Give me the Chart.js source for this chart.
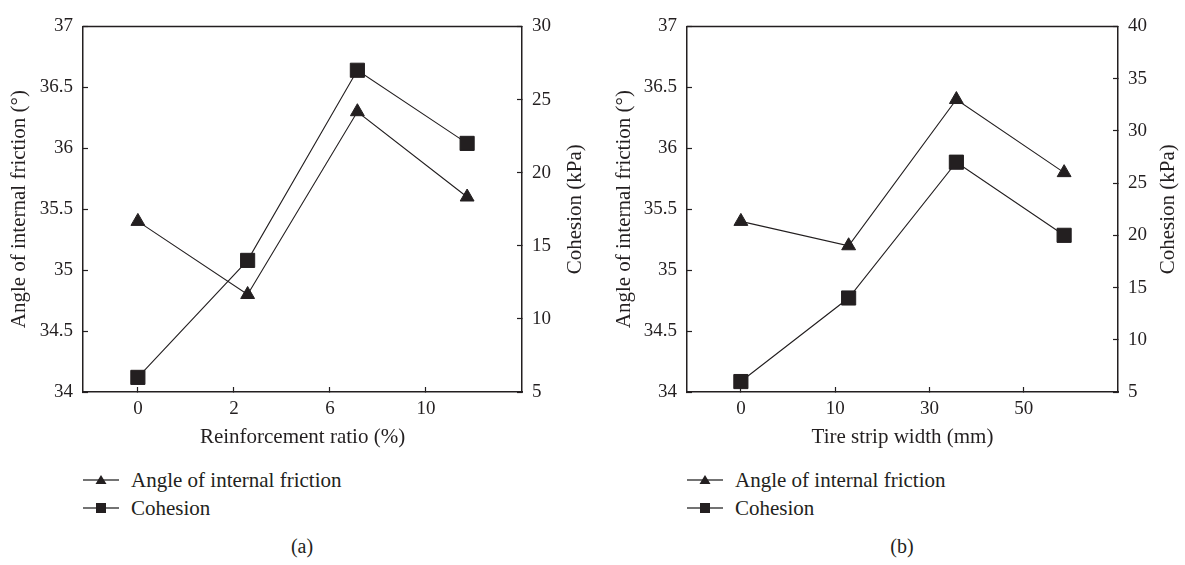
<!DOCTYPE html>
<html lang="en">
<head>
<meta charset="utf-8">
<title>Angle of internal friction and cohesion</title>
<script src="https://cdn.jsdelivr.net/npm/chart.js@4.4.1/dist/chart.umd.min.js"></script>
<style>
  body {
    margin: 0;
    width: 1185px;
    height: 565px;
    position: relative;
    overflow: hidden;
    background: #fff;
    color: #231f20;
    font-family: "Liberation Serif", "DejaVu Serif", serif;
  }
  canvas { position: absolute; top: 0; }
  .legend { position: absolute; top: 466px; font-size: 21px; }
  .legend div { height: 28px; display: flex; align-items: center; }
  .legend svg { margin-right: 12px; }
  .caption { position: absolute; top: 535px; width: 100px; text-align: center; font-size: 20px; }
</style>
</head>
<body>

  <!-- Panel (a) -->
  <canvas id="chartA" width="600" height="460" style="left:0"></canvas>
  <div class="legend" style="left:83px">
    <div><svg width="36" height="14"><line x1="0" y1="7" x2="36" y2="7" stroke="#444" stroke-width="1.5"/><polygon points="18,2 23.5,11 12.5,11" fill="#231f20"/></svg>Angle of internal friction</div>
    <div><svg width="36" height="14"><line x1="0" y1="7" x2="36" y2="7" stroke="#444" stroke-width="1.5"/><rect x="13" y="2" width="10" height="10" fill="#231f20"/></svg>Cohesion</div>
  </div>
  <div class="caption" style="left:252px">(a)</div>

  <!-- Panel (b) -->
  <canvas id="chartB" width="585" height="460" style="left:600px"></canvas>
  <div class="legend" style="left:687px">
    <div><svg width="36" height="14"><line x1="0" y1="7" x2="36" y2="7" stroke="#444" stroke-width="1.5"/><polygon points="18,2 23.5,11 12.5,11" fill="#231f20"/></svg>Angle of internal friction</div>
    <div><svg width="36" height="14"><line x1="0" y1="7" x2="36" y2="7" stroke="#444" stroke-width="1.5"/><rect x="13" y="2" width="10" height="10" fill="#231f20"/></svg>Cohesion</div>
  </div>
  <div class="caption" style="left:852px">(b)</div>

<script>
  // values
  const ratioLabels = ["0", "2", "6", "10"];
  const widthLabels = ["0", "10", "30", "50"];
  const labelSpots = [0.5, 1.375, 2.25, 3.125]; // printed x labels do not line up with the points
  const frictionA = [35.4, 34.8, 36.3, 35.6];
  const cohesionA = [6, 14, 27, 22];
  const frictionB = [35.4, 35.2, 36.4, 35.8];
  const cohesionB = [6, 14, 27, 20];
  const frictionTicks = [34, 34.5, 35, 35.5, 36, 36.5, 37];
  const cohesionTicksA = [5, 10, 15, 20, 25, 30];
  const cohesionTicksB = [5, 10, 15, 20, 25, 30, 35, 40];

  const ink = "#231f20";
  const serif = "'Liberation Serif', 'Times New Roman', serif";
  Chart.defaults.font.family = serif;
  Chart.defaults.color = ink;
  const tickFont = { family: serif, size: 19 };
  const titleFont = { family: serif, size: 21 };

  const frame = {
    id: "frame",
    afterDraw(chart, args, opts) {
      const { ctx, chartArea: a } = chart;
      ctx.save();
      ctx.strokeStyle = ink;
      ctx.lineWidth = 1.5;
      ctx.beginPath();
      ctx.moveTo(a.left, a.top);
      ctx.lineTo(a.right, a.top);
      ctx.stroke();
      // right-hand title reads bottom to top
      ctx.translate(chart.width - opts.inset, (a.top + a.bottom) / 2);
      ctx.rotate(-Math.PI / 2);
      ctx.fillStyle = ink;
      ctx.font = titleFont.size + "px " + serif;
      ctx.textAlign = "center";
      ctx.textBaseline = "middle";
      ctx.fillText(opts.text, 0, 0);
      ctx.restore();
    }
  };

  const pts = arr => arr.map((v, i) => ({ x: i + 0.5, y: v }));

  function panel(id, p) {
    const yAxis = (ticks, pos, width, title) => ({
      type: "linear",
      position: pos,
      min: ticks[0],
      max: ticks[ticks.length - 1],
      afterFit: s => { s.width = width; },
      afterBuildTicks: s => { s.ticks = ticks.map(v => ({ value: v })); },
      ticks: { callback: v => String(v), font: tickFont, color: ink, padding: 15 },
      grid: { drawOnChartArea: false, tickLength: -5, color: ink, tickWidth: 1.2 },
      border: { color: ink, width: 1.5 },
      title: title ? { display: true, text: title, font: titleFont, color: ink, padding: { top: p.leftTitlePad, bottom: 0 } } : { display: false }
    });

    new Chart(document.getElementById(id), {
      type: "line",
      data: {
        datasets: [
          {
            label: "Angle of internal friction",
            data: pts(p.friction),
            yAxisID: "y",
            borderColor: ink,
            borderWidth: 1.1,
            pointStyle: "triangle",
            pointRadius: 8,
            pointBackgroundColor: ink,
            pointBorderColor: ink,
            pointBorderWidth: 1
          },
          {
            label: "Cohesion",
            data: pts(p.cohesion),
            yAxisID: "y2",
            borderColor: ink,
            borderWidth: 1.1,
            pointStyle: "rect",
            pointRadius: 10,
            pointBackgroundColor: ink,
            pointBorderColor: ink,
            pointBorderWidth: 1
          }
        ]
      },
      options: {
        responsive: false,
        animation: false,
        events: [],
        layout: { padding: { top: 16, bottom: 0, left: 0, right: 0 } },
        plugins: {
          legend: { display: false },
          tooltip: { enabled: false },
          frame: { text: "Cohesion (kPa)", inset: p.rightTitleInset }
        },
        scales: {
          x: {
            type: "linear",
            min: 0,
            max: 4,
            afterFit: s => { s.height = 68; },
            afterBuildTicks: s => { s.ticks = labelSpots.map(v => ({ value: v })); },
            ticks: { callback: (v, i) => p.xLabels[i], font: tickFont, color: ink, padding: 11, maxRotation: 0, autoSkip: false },
            grid: { drawOnChartArea: false, tickLength: -5, color: ink, tickWidth: 1.2 },
            border: { color: ink, width: 1.5 },
            title: { display: true, text: p.xTitle, font: titleFont, color: ink, padding: { top: 0, bottom: 10 } }
          },
          y: yAxis(frictionTicks, "left", p.leftWidth, "Angle of internal friction (°)"),
          y2: yAxis(p.cohesionTicks, "right", p.rightWidth, null)
        }
      },
      plugins: [frame]
    });
  }

  panel("chartA", {
    friction: frictionA, cohesion: cohesionA, cohesionTicks: cohesionTicksA,
    xLabels: ratioLabels, xTitle: "Reinforcement ratio (%)",
    leftWidth: 83, rightWidth: 78, leftTitlePad: 7, rightTitleInset: 25
  });
  panel("chartB", {
    friction: frictionB, cohesion: cohesionB, cohesionTicks: cohesionTicksB,
    xLabels: widthLabels, xTitle: "Tire strip width (mm)",
    leftWidth: 87, rightWidth: 67, leftTitlePad: 12, rightTitleInset: 17
  });
</script>
</body>
</html>
